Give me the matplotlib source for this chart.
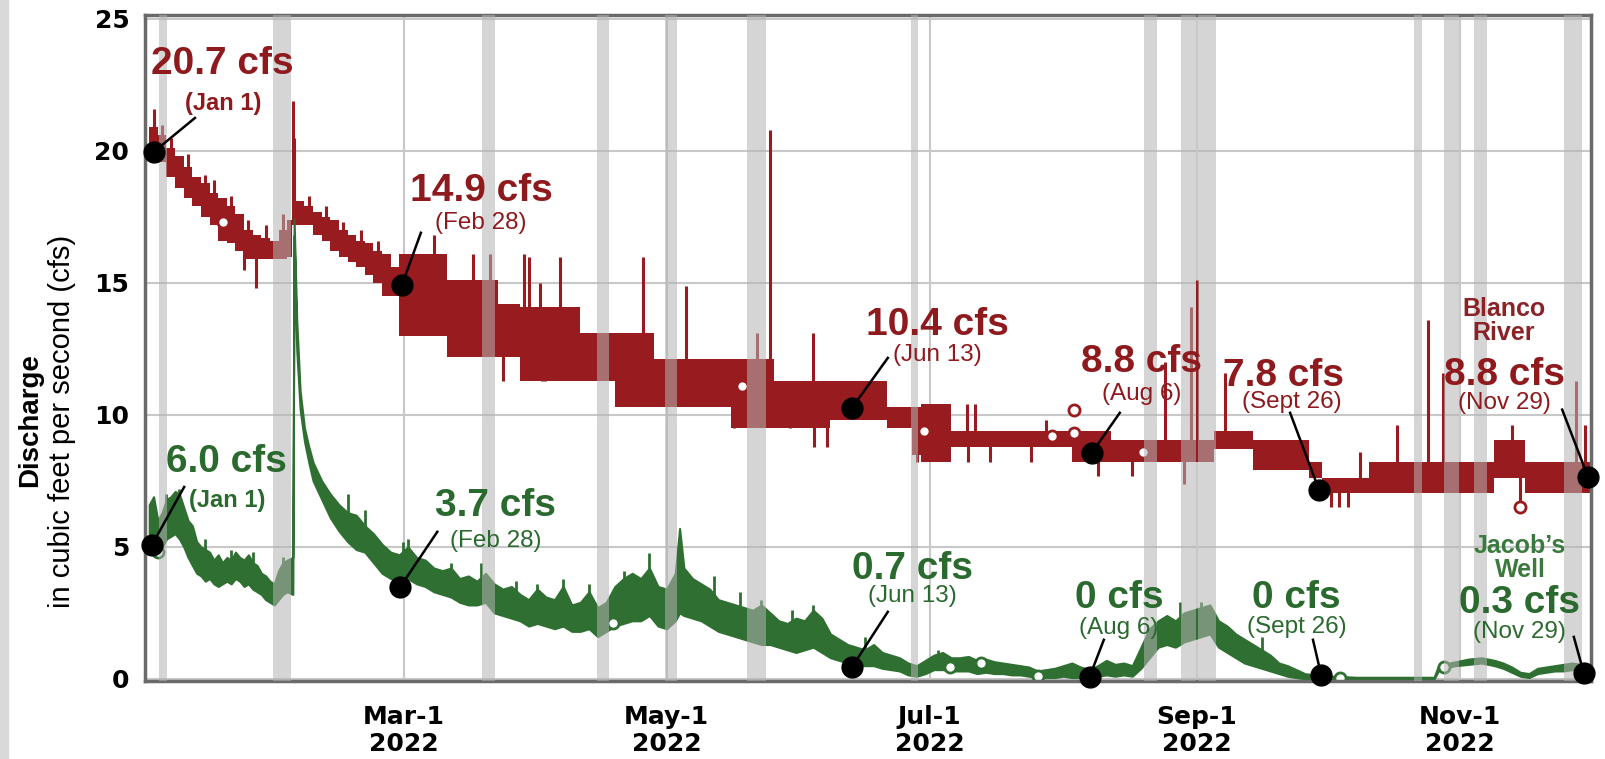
import numpy as np
import pandas as pd
import matplotlib
matplotlib.use("Agg")
import matplotlib.pyplot as plt
import matplotlib.dates as mdates
from matplotlib.patches import Rectangle
from matplotlib.ticker import FuncFormatter

plt.rcParams['font.family'] = ['Liberation Sans', 'DejaVu Sans']

# all x values are days counted from Jan 1 2022
# Blanco River, upper and lower edge of the daily band (cfs)
red_day = [0, 2, 4, 6, 8, 10, 12, 14, 16, 18, 20, 22, 24, 26, 28, 30, 32, 33.2, 36, 38, 40,
           42, 44, 46, 48, 50, 52, 54, 56, 58, 65, 69, 77, 81, 86, 100, 108, 117, 135, 145,
           158, 171, 177, 179, 186, 214, 223, 247, 256, 269, 272, 283, 296, 312, 319, 334.5]
red_lo = [19.8, 19.6, 19.0, 18.6, 18.2, 17.9, 17.5, 17.2, 16.6, 16.5, 16.2, 15.9, 15.9, 15.9,
          15.9, 15.9, 16.0, 17.2, 17.2, 16.8, 16.6, 16.2, 16.0, 15.8, 15.6, 15.3, 15.0, 14.5,
          14.5, 13.0, 13.0, 12.2, 12.2, 12.2, 11.3, 11.3, 10.3, 10.3, 9.5, 9.5, 9.8, 9.5, 8.5,
          8.2, 8.8, 8.2, 8.2, 8.7, 7.9, 7.6, 7.05, 7.05, 7.05, 7.6, 7.05, 7.05]
red_hi = [20.9, 20.6, 20.1, 19.8, 19.4, 19.0, 18.8, 18.4, 18.2, 17.9, 17.6, 17.0, 16.8, 16.7,
          16.6, 17.0, 17.4, 18.1, 17.9, 17.7, 17.5, 17.4, 17.0, 16.8, 16.6, 16.5, 16.2, 16.1,
          15.6, 16.1, 16.1, 15.1, 15.1, 14.2, 14.1, 13.1, 13.1, 12.1, 12.1, 11.3, 11.3, 10.3,
          10.3, 10.4, 9.4, 9.4, 9.05, 9.4, 9.05, 8.2, 7.6, 8.2, 8.2, 9.05, 8.2, 8.2]

# single readings that stick out of the Blanco band
red_spike_day = [1, 33.3, 33.6, 66, 75, 79, 87, 88, 90.6, 95.3, 114.5, 124.6, 140.9, 144,
                 154, 168, 189.6, 191.5, 208, 235.6, 241.5, 242.9, 249.5, 280.8, 289.3, 296.6,
                 300, 316, 331, 333,
                 3, 5, 9, 13, 15, 19, 23, 27, 31, 37, 41, 45, 49, 53,
                 22, 24.8, 82, 91, 91.8, 135.6, 148.6, 154.2, 157.1, 178, 189.8, 195, 204.5,
                 220, 228, 240, 274, 276, 278, 318]
red_spike_val = [21.6, 21.9, 20.5, 16.8, 16.1, 16.1, 16.1, 16.0, 15.0, 16.0, 16.0, 14.9, 13.1,
                 20.8, 13.1, 11.3, 10.4, 10.4, 9.8, 12.0, 14.1, 15.1, 11.6, 8.6, 9.6, 13.6,
                 11.6, 9.6, 11.3, 9.6,
                 21.0, 20.5, 19.9, 19.1, 18.9, 18.3, 17.4, 17.2, 17.6, 18.3, 17.9, 17.3, 17.0,
                 16.6,
                 15.5, 14.8, 11.3, 11.3, 11.3, 9.5, 9.5, 8.8, 8.8, 8.2, 8.2, 8.2, 8.2,
                 7.7, 7.7, 7.4, 6.5, 6.5, 6.5, 6.5]
red_gap_day = [17.2, 137.5, 179.6, 209.4, 214.4, 214.4, 230.5, 317.9]
red_gap_val = [17.3, 11.1, 9.4, 9.2, 9.3, 10.2, 8.6, 6.5]

# Jacob's Well
green_day = [0, 1, 2, 3, 4, 5, 6, 7, 8, 9, 10, 11, 12, 13, 14, 15, 16, 17, 18, 19, 20, 21, 22,
             23, 24, 25, 26, 27, 28, 29, 30, 31, 32, 33.3, 33.6, 34.2, 35, 36, 37, 38, 40, 42,
             44, 46, 48, 50, 52, 54, 56, 58, 60, 62, 64, 66, 68, 70, 72, 74, 76, 78, 80, 82,
             84, 86, 88, 90, 92, 94, 96, 98, 100, 102, 104, 106, 108, 110, 112, 114, 116, 118,
             120, 122, 123, 124, 126, 128, 130, 132, 134, 136, 138, 140, 142, 144, 146, 148,
             150, 152, 154, 156, 158, 160, 162, 164, 166, 168, 170, 172, 174, 176, 178, 180,
             182, 184, 186, 188, 190, 192, 194, 196, 198, 200, 202, 204, 206, 208, 210, 212,
             214, 216, 218, 220, 222, 224, 226, 228, 230, 232, 234, 236, 238, 240, 242, 244,
             246, 248, 250, 252, 254, 256, 258, 260, 262, 264, 266, 268, 270, 272, 275, 280,
             298, 299, 300, 303, 306, 309, 312, 314, 316, 318, 320, 322, 324, 326, 328, 330,
             332, 334.5]
green_lo = [5.0, 4.9, 4.8, 5.0, 5.3, 5.4, 5.5, 5.3, 5.0, 4.6, 4.3, 4.0, 3.9, 3.7, 3.8, 3.6,
            3.5, 3.6, 3.7, 3.6, 3.8, 3.7, 3.5, 3.6, 3.4, 3.3, 3.2, 3.0, 2.9, 2.8, 3.0, 3.2, 3.3,
            3.2, 16.8, 12.5, 10.2, 9.0, 8.2, 7.5, 6.8, 6.1, 5.6, 5.2, 4.9, 4.8, 4.4, 4.0, 3.8,
            3.7, 3.8, 3.6, 3.5, 3.3, 3.2, 3.1, 2.9, 2.8, 2.8, 2.9, 2.5, 2.4, 2.3, 2.2, 2.0,
            2.1, 2.0, 1.9, 2.0, 1.8, 1.8, 1.9, 1.6, 1.8, 2.0, 2.1, 2.2, 2.2, 2.4, 2.0, 1.9,
            2.2, 2.5, 2.4, 2.3, 2.2, 2.0, 1.8, 1.7, 1.6, 1.5, 1.4, 1.3, 1.3, 1.2, 1.1, 1.0,
            1.1, 1.2, 1.0, 0.8, 0.7, 0.6, 0.5, 0.5, 0.5, 0.4, 0.35, 0.3, 0.15, 0.1, 0.2, 0.35,
            0.35, 0.3, 0.3, 0.3, 0.2, 0.25, 0.2, 0.2, 0.15, 0.15, 0.1, 0.05, 0.05, 0.05, 0.1,
            0.05, 0.05, 0.05, 0.1, 0.15, 0.1, 0.15, 0.1, 0.4, 0.8, 1.2, 1.3, 1.2, 1.4, 1.5,
            1.6, 1.7, 1.2, 1.0, 0.8, 0.6, 0.5, 0.4, 0.3, 0.2, 0.1, 0.05, 0.0, 0.0, 0.0, 0.0,
            0.0, 0.0, 0.3, 0.4, 0.5, 0.55, 0.6, 0.5, 0.4, 0.25, 0.1, 0.05, 0.2, 0.25, 0.3,
            0.3, 0.35, 0.3, 0.3]
green_hi = [6.6, 6.9, 6.0, 6.3, 6.8, 6.9, 7.1, 7.0, 6.5, 6.0, 5.8, 5.2, 5.0, 4.9, 4.8, 4.5,
            4.7, 4.4, 4.6, 4.5, 4.8, 4.6, 4.5, 4.7, 4.4, 4.3, 4.0, 3.9, 3.7, 3.6, 4.1, 4.4, 4.5,
            4.6, 17.4, 13.6, 10.9, 9.5, 8.8, 8.2, 7.5, 7.0, 6.6, 6.3, 6.2, 5.8, 5.5, 5.1, 4.8,
            4.7, 5.0, 4.6, 4.5, 4.2, 4.1, 4.2, 3.8, 3.9, 3.7, 4.0, 3.6, 3.4, 3.5, 3.2, 3.0,
            3.4, 3.1, 3.0, 3.5, 2.8, 2.9, 3.3, 2.7, 2.9, 3.5, 3.8, 4.0, 3.8, 4.2, 3.5, 3.4,
            4.0, 5.7, 4.2, 3.8, 3.6, 3.4, 3.0, 2.9, 2.8, 2.7, 2.6, 2.8, 2.5, 2.2, 2.1, 2.3,
            2.2, 2.6, 2.3, 1.7, 1.5, 1.3, 1.2, 1.1, 1.3, 1.0, 0.9, 0.8, 0.6, 0.5, 0.7, 0.9,
            1.0, 0.8, 0.8, 0.85, 0.7, 0.75, 0.65, 0.6, 0.55, 0.5, 0.45, 0.3, 0.35, 0.4, 0.5,
            0.6, 0.45, 0.35, 0.5, 0.7, 0.55, 0.6, 0.5, 1.2, 1.9, 2.2, 2.4, 2.2, 2.5, 2.6,
            2.7, 2.8, 2.2, 2.0, 1.7, 1.5, 1.3, 1.1, 0.9, 0.6, 0.5, 0.35, 0.2, 0.15, 0.1, 0.1,
            0.06, 0.06, 0.5, 0.55, 0.65, 0.75, 0.8, 0.7, 0.6, 0.45, 0.25, 0.2, 0.4, 0.45, 0.5,
            0.55, 0.6, 0.55, 0.5]
green_spike_day = [60, 77, 96, 102, 116, 142, 154, 46, 50, 58.8, 70, 85, 90, 110, 131, 137,
                   149, 166, 183, 239, 244, 258, 4, 7, 13, 19, 24, 31]
green_spike_val = [5.3, 4.4, 3.8, 3.6, 4.75, 3.0, 2.8, 7.0, 6.4, 5.2, 4.4, 3.7, 3.6, 4.1, 3.9,
                   3.3, 2.6, 1.6, 1.1, 2.9, 2.9, 1.6, 7.0, 7.2, 5.3, 4.9, 4.8, 4.6]
green_gap_day = [2.0, 107.6, 185.8, 193.0, 206.2, 276.2, 300.3]
green_gap_val = [4.8, 2.1, 0.45, 0.6, 0.1, 0.05, 0.45]

# grey bars (missing record)
gap_start = [2.3, 28.7, 77.2, 103.8, 119.6, 138.6, 176.7, 230.7, 239.3, 243.2, 293.3, 300.3,
             307.3, 328.1]
gap_end = [4.1, 32.9, 80.2, 106.6, 122.4, 143.0, 178.3, 233.7, 242.8, 247.4, 295.2, 303.8,
           310.3, 332.3]

# annotated readings
red_mark_day = [1.0, 58.6, 163.0, 218.6, 271.3, 333.7]
red_mark_val = [19.96, 14.92, 10.27, 8.56, 7.16, 7.65]
red_value_text = ["20.7 cfs", "14.9 cfs", "10.4 cfs", "8.8 cfs", "7.8 cfs", "8.8 cfs"]
red_date_text = ["(Jan 1)", "(Feb 28)", "(Jun 13)", "(Aug 6)", "(Sept 26)", "(Nov 29)"]
green_mark_day = [0.65, 58.2, 163.0, 218.1, 271.8, 332.7]
green_mark_val = [5.08, 3.48, 0.45, 0.08, 0.15, 0.23]
green_value_text = ["6.0 cfs", "3.7 cfs", "0.7 cfs", "0 cfs", "0 cfs", "0.3 cfs"]
green_date_text = ["(Jan 1)", "(Feb 28)", "(Jun 13)", "(Aug 6)", "(Sept 26)", "(Nov 29)"]

# label placement (day, cfs)
red_value_xy = [(16.9, 23.3), (77.0, 18.48), (182.7, 13.41), (230.2, 12.0), (263.0, 11.48),
                (314.4, 11.52)]
red_date_xy = [(17.1, 21.78), (77.0, 17.27), (182.7, 12.27), (230.2, 10.8), (264.9, 10.49),
               (314.4, 10.45)]
red_line_start = [(10.6, 21.25), (63.0, 16.9), (171.3, 12.16), (225.1, 10.08), (264.6, 10.08),
                  (327.7, 10.2)]
green_value_xy = [(18.0, 8.22), (80.2, 6.55), (177.1, 4.17), (225.1, 3.07), (266.0, 3.07),
                  (317.9, 2.88)]
green_date_xy = [(18.0, 6.74), (80.4, 5.23), (177.1, 3.14), (224.9, 1.93), (266.2, 1.97),
                 (317.7, 1.78)]
green_line_start = [(8.1, 7.27), (66.8, 5.57), (171.3, 2.54), (221.4, 1.48), (269.9, 1.48),
                    (330.4, 1.59)]

RED = '#981c1f'
GREEN = '#2f6f32'
RED_TXT = '#8e1a1d'
GREEN_TXT = '#2a6a2e'

t0 = mdates.date2num(pd.Timestamp('2022-01-01'))
def X(d):
    return t0 + np.asarray(d, dtype=float)

fig = plt.figure(figsize=(16.06, 7.59), dpi=100)
ax = fig.add_axes([0.090, 0.1028, 0.9007, 0.8774])
fig.patches.append(Rectangle((0, 0), 8 / 1606, 1, transform=fig.transFigure,
                             color='#d9d9d9', zorder=0))

# Blanco River
rlo = np.array(red_lo)
rhi = np.array(red_hi)
ax.fill_between(X(red_day), rlo, rhi, step='post', color=RED, lw=0, zorder=2)
base = np.interp(red_spike_day, red_day, (rlo + rhi) / 2)
ax.vlines(X(red_spike_day), base, red_spike_val, color=RED, lw=2.2, zorder=2)
ax.plot(X(red_gap_day), red_gap_val, 'o', ms=8, mfc='white', mec=RED, mew=2, zorder=2)

# Jacob's Well
glo = np.array(green_lo)
ghi = np.array(green_hi)
ax.fill_between(X(green_day), glo, ghi, color=GREEN, lw=1.5, ec=GREEN, zorder=2)
gbase = np.interp(green_spike_day, green_day, (glo + ghi) / 2)
ax.vlines(X(green_spike_day), gbase, green_spike_val, color=GREEN, lw=2.0, zorder=2)
ax.plot(X(green_gap_day), green_gap_val, 'o', ms=8, mfc='white', mec=GREEN, mew=2, zorder=2)

for s, e in zip(gap_start, gap_end):
    ax.axvspan(X(s), X(e), color='#b4b4b4', alpha=0.55, lw=0, zorder=3)

# markers, leader lines and labels
for i in range(6):
    ax.plot([X(red_line_start[i][0]), X(red_mark_day[i])],
            [red_line_start[i][1], red_mark_val[i]], color='black', lw=1.8, zorder=5)
    ax.plot([X(green_line_start[i][0]), X(green_mark_day[i])],
            [green_line_start[i][1], green_mark_val[i]], color='black', lw=1.8, zorder=5)
ax.plot(X(red_mark_day), red_mark_val, 'o', ms=15, color='black', zorder=6, clip_on=False)
ax.plot(X(green_mark_day), green_mark_val, 'o', ms=15, color='black', zorder=6, clip_on=False)

for i in range(6):
    ax.text(X(red_value_xy[i][0]), red_value_xy[i][1], red_value_text[i], color=RED_TXT,
            fontsize=28, fontweight='bold', ha='center', va='center', zorder=7)
    ax.text(X(red_date_xy[i][0]), red_date_xy[i][1], red_date_text[i], color=RED_TXT,
            fontsize=17 if i == 0 else 17.5, fontweight='bold' if i == 0 else 'normal',
            ha='center', va='center', zorder=7)
    ax.text(X(green_value_xy[i][0]), green_value_xy[i][1], green_value_text[i],
            color=GREEN_TXT, fontsize=28, fontweight='bold', ha='center', va='center', zorder=7)
    ax.text(X(green_date_xy[i][0]), green_date_xy[i][1], green_date_text[i], color=GREEN_TXT,
            fontsize=17 if i == 0 else 17.5, fontweight='bold' if i == 0 else 'normal',
            ha='center', va='center', zorder=7)

ax.text(X(314.2), 13.56, "Blanco\nRiver", color='#8b2226', fontsize=18, fontweight='bold',
        ha='center', va='center', linespacing=1.0, zorder=7)
ax.text(X(317.9), 4.58, "Jacob\u2019s\nWell", color='#3b7a3f', fontsize=18, fontweight='bold',
        ha='center', va='center', linespacing=1.0, zorder=7)

# axes
ax.set_xlim(X(-1.09), X(334.4))
ax.set_ylim(-0.08, 25.15)
ax.set_yticks([0, 5, 10, 15, 20, 25])
ax.xaxis.set_major_locator(mdates.MonthLocator(bymonth=[3, 5, 7, 9, 11]))
ax.xaxis.set_major_formatter(FuncFormatter(
    lambda v, p: "{0:%b}-{1}\n{2}".format(mdates.num2date(v), mdates.num2date(v).day,
                                          mdates.num2date(v).year)))
for lab in ax.get_xticklabels() + ax.get_yticklabels():
    lab.set_family('DejaVu Sans')
    lab.set_fontweight('bold')
    lab.set_fontsize(18)
ax.tick_params(axis='y', length=0, pad=11)
ax.tick_params(axis='x', length=0, pad=17)
ax.grid(True, color='#c8c8c8', lw=1.5, zorder=0)
ax.set_axisbelow(True)
for sp in ax.spines.values():
    sp.set_color('#6a6a6a')
    sp.set_linewidth(2.5)

fig.text(30 / 1606, 1 - 420 / 759, "Discharge", rotation=90, fontsize=20, fontweight='bold',
         ha='center', va='center')
fig.text(62 / 1606, 1 - 421 / 759, "in cubic feet per second (cfs)", rotation=90,
         fontsize=21, ha='center', va='center')

fig.savefig("out.png", dpi=100)
